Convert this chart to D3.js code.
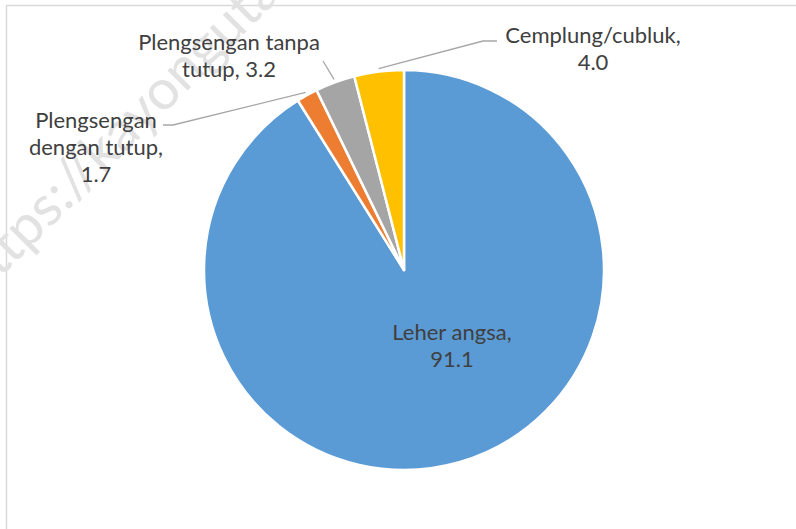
<!DOCTYPE html>
<meta charset="utf-8">
<script src="https://d3js.org/d3.v7.min.js"></script>
<style>
  body { margin: 0; background: #fff; }
  text { font-family: Lato, "Open Sans", sans-serif; }
</style>
<div id="chart"></div>
<script>
  // data
  var categories = ["Leher angsa", "Plengsengan dengan tutup", "Plengsengan tanpa tutup", "Cemplung/cubluk"];
  var values = [91.1, 1.7, 3.2, 4.0];
  var colors = ["#5B9BD5", "#ED7D31", "#A5A5A5", "#FFC000"];
  // label lines (text broken as in the original)
  var labelLines = [
    ["Leher angsa,", "91.1"],
    ["Plengsengan", "dengan tutup,", "1.7"],
    ["Plengsengan tanpa", "tutup, 3.2"],
    ["Cemplung/cubluk,", "4.0"]
  ];

  var width = 796, height = 529;
  var cx = 404, cy = 270, radius = 200;

  // label layout: x/y of first baseline, leader elbow points
  var labelPos = [
    {x: 452, y: 340, leader: null},
    {x: 96, y: 128, leader: [[173, 125], [163, 125]]},
    {x: 229, y: 50, leader: [[323, 61]]},
    {x: 593, y: 43, leader: [[483, 41], [497, 41]]}
  ];

  var svg = d3.select("#chart").append("svg")
    .attr("width", width)
    .attr("height", height);

  // chart border
  svg.append("rect")
    .attr("x", 6.5).attr("y", 5.5)
    .attr("width", width + 10).attr("height", height + 10)
    .attr("fill", "#fff")
    .attr("stroke", "#d9d9d9")
    .attr("stroke-width", 1.5);

  // faint watermark
  svg.append("text")
    .attr("transform", "translate(-22,300) rotate(-45)")
    .attr("font-size", 56)
    .attr("fill", "#e2e2e2")
    .text("https://kayongutarakab.bps.go.id");

  var pie = d3.pie().sort(null).value(function(d){ return d; });
  var arcs = pie(values);

  var arc = d3.arc().innerRadius(0).outerRadius(radius);

  var g = svg.append("g").attr("transform", "translate(" + cx + "," + cy + ")");

  g.selectAll("path.slice")
    .data(arcs)
    .enter()
    .append("path")
      .attr("class", "slice")
      .attr("d", arc)
      .attr("fill", function(d, i){ return colors[i]; })
      .attr("stroke", "#fff")
      .attr("stroke-width", 2.5)
      .attr("stroke-linejoin", "round");

  // leader lines
  arcs.forEach(function(d, i) {
    var p = labelPos[i];
    if (!p.leader) return;
    var a = (d.startAngle + d.endAngle) / 2;
    var start = [cx + (radius + 3) * Math.sin(a), cy - (radius + 3) * Math.cos(a)];
    svg.append("path")
      .attr("d", d3.line()([start].concat(p.leader)))
      .attr("fill", "none")
      .attr("stroke", "#a6a6a6")
      .attr("stroke-width", 1.3);
  });

  // labels
  labelLines.forEach(function(lines, i) {
    var p = labelPos[i];
    var t = svg.append("text")
      .attr("text-anchor", "middle")
      .attr("font-size", 22)
      .attr("fill", "#404040");
    lines.forEach(function(line, j) {
      t.append("tspan")
        .attr("x", p.x)
        .attr("y", p.y + j * 27)
        .text(line);
    });
  });
</script>
